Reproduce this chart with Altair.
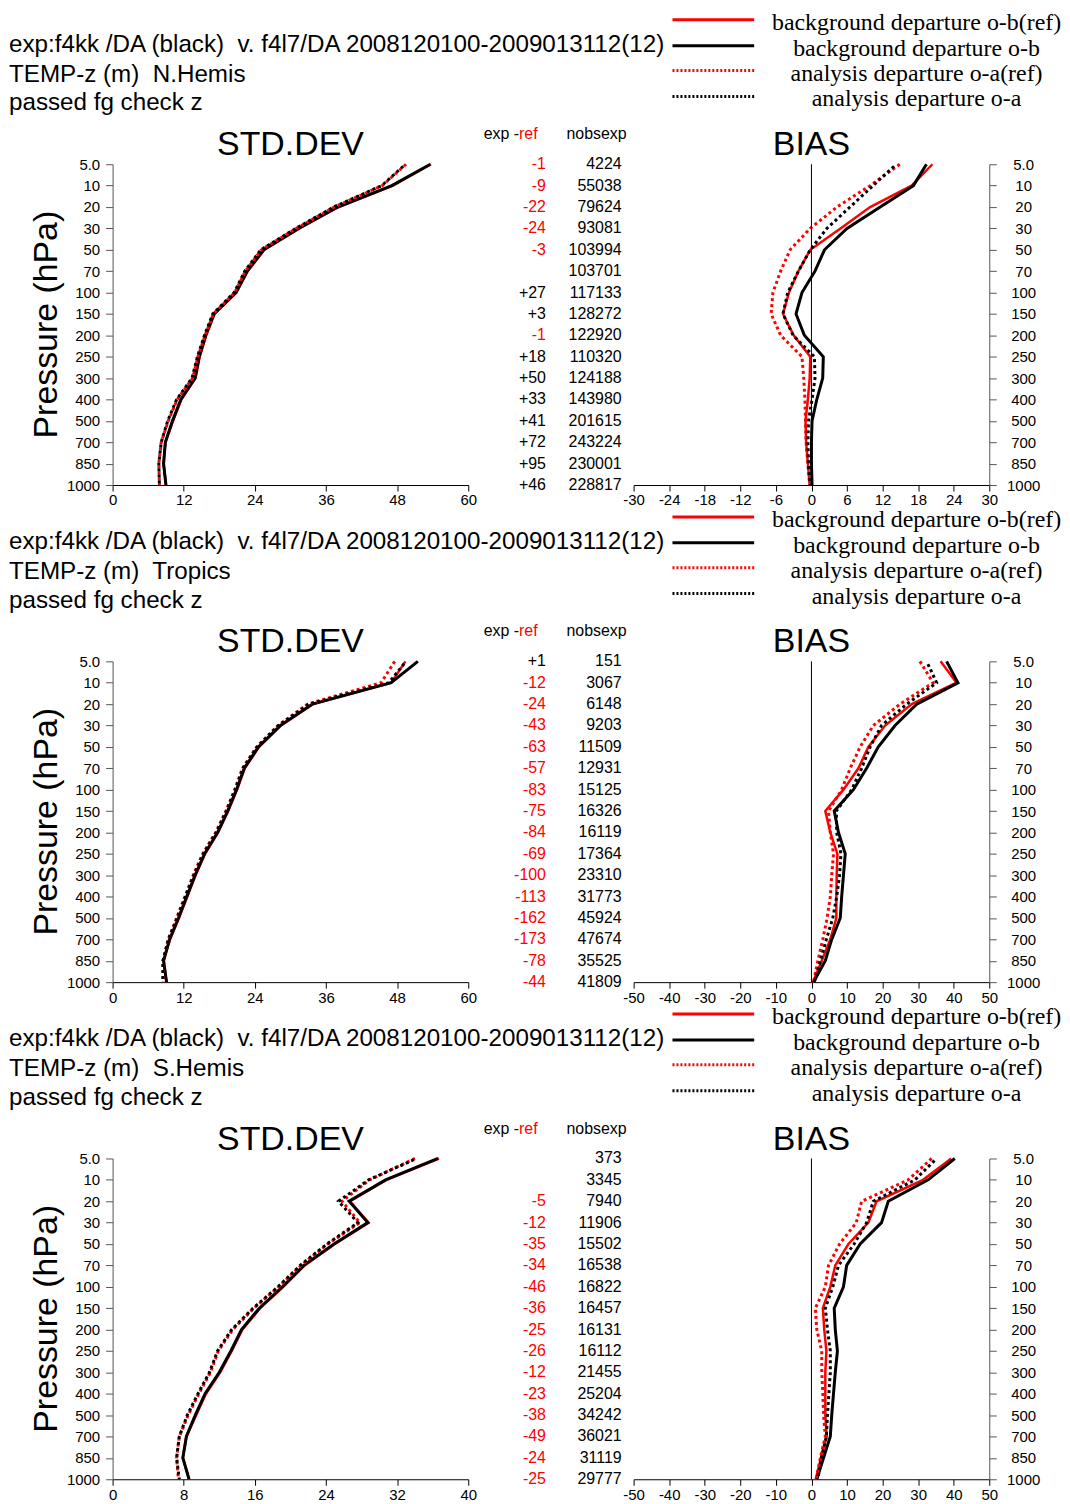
import altair as alt
import pandas as pd

LEVELS = ["5.0", "10", "20", "30", "50", "70", "100", "150", "200", "250",
          "300", "400", "500", "700", "850", "1000"]

# ---------------- N.Hemis ----------------
NH_STD_OB_REF = [53.7, 47.3, 38.1, 31.5, 25.6, 22.8, 20.9, 17.2, 15.8, 14.7, 14.0, 11.6, 10.2, 8.9, 8.6, 9.0]
NH_STD_OB_EXP = [53.6, 47.1, 38.0, 31.4, 25.5, 22.7, 20.8, 17.1, 15.7, 14.6, 13.9, 11.5, 10.1, 8.9, 8.6, 9.0]
NH_STD_OA_REF = [49.5, 45.5, 37.4, 31.0, 25.1, 22.4, 20.6, 17.0, 15.6, 14.4, 13.5, 10.9, 9.4, 8.2, 7.8, 7.9]
NH_STD_OA_EXP = [49.4, 45.4, 37.3, 30.9, 25.0, 22.3, 20.5, 16.9, 15.5, 14.3, 13.4, 10.8, 9.3, 8.2, 7.8, 7.9]
NH_BIAS_OB_REF = [20.4, 16.9, 9.9, 4.9, -0.2, -2.2, -3.8, -4.8, -3.0, -0.2, -0.3, -0.6, -1.0, -0.9, -0.6, -0.3]
NH_BIAS_OB_EXP = [19.4, 17.2, 11.6, 6.0, 2.2, 0.6, -1.6, -2.6, -1.2, 2.0, 1.9, 0.9, 0.1, 0.0, 0.0, 0.1]
NH_BIAS_OA_REF = [14.9, 9.9, 4.3, -0.2, -3.6, -5.2, -6.5, -6.8, -5.2, -1.6, -1.3, -1.1, -1.0, -0.9, -0.6, -0.3]
NH_BIAS_OA_EXP = [14.3, 10.4, 6.5, 2.6, -0.2, -2.2, -4.0, -4.8, -3.1, 0.5, 0.6, 0.1, -0.5, -0.6, -0.5, -0.2]
NH_DIFF = ["-1", "-9", "-22", "-24", "-3", "", "+27", "+3", "-1", "+18", "+50", "+33", "+41", "+72", "+95", "+46"]
NH_NOBS = ["4224", "55038", "79624", "93081", "103994", "103701", "117133", "128272", "122920",
           "110320", "124188", "143980", "201615", "243224", "230001", "228817"]

# ---------------- Tropics ----------------
TR_STD_OB_REF = [49.4, 47.0, 33.8, 28.4, 24.7, 22.3, 21.0, 19.5, 17.8, 15.6, 14.0, 12.6, 11.2, 9.7, 8.6, 9.1]
TR_STD_OB_EXP = [51.5, 47.0, 33.7, 28.3, 24.6, 22.2, 20.9, 19.4, 17.7, 15.5, 13.9, 12.5, 11.1, 9.6, 8.6, 9.1]
TR_STD_OA_REF = [47.6, 45.3, 32.9, 27.9, 24.3, 21.9, 20.6, 19.1, 17.4, 15.2, 13.6, 12.2, 10.8, 9.4, 8.5, 8.5]
TR_STD_OA_EXP = [49.5, 46.6, 33.1, 28.0, 24.4, 22.0, 20.7, 19.2, 17.5, 15.3, 13.7, 12.3, 10.9, 9.4, 8.5, 8.5]
TR_BIAS_OB_REF = [36.3, 40.8, 28.2, 20.7, 16.0, 13.2, 9.0, 3.9, 5.3, 7.3, 7.1, 7.0, 7.0, 5.3, 2.9, 0.4]
TR_BIAS_OB_EXP = [38.0, 41.2, 29.6, 23.5, 18.8, 15.5, 11.8, 6.4, 7.6, 9.5, 9.0, 8.5, 8.1, 5.7, 3.9, 0.6]
TR_BIAS_OA_REF = [30.5, 34.2, 24.9, 17.4, 13.7, 10.9, 8.5, 4.8, 5.3, 6.2, 5.7, 5.3, 4.4, 3.2, 1.8, 0.6]
TR_BIAS_OA_EXP = [32.4, 35.2, 26.8, 19.7, 16.5, 14.1, 11.3, 7.0, 7.1, 8.3, 7.9, 7.1, 6.0, 4.2, 2.5, 0.8]
TR_DIFF = ["+1", "-12", "-24", "-43", "-63", "-57", "-83", "-75", "-84", "-69", "-100", "-113",
           "-162", "-173", "-78", "-44"]
TR_NOBS = ["151", "3067", "6148", "9203", "11509", "12931", "15125", "16326", "16119", "17364",
           "23310", "31773", "45924", "47674", "35525", "41809"]

# ---------------- S.Hemis ----------------
SH_STD_OB_REF = [36.7, 30.8, 26.7, 28.8, 25.0, 21.6, 19.2, 16.6, 14.6, 13.4, 12.1, 10.5, 9.4, 8.3, 7.9, 8.6]
SH_STD_OB_EXP = [36.6, 30.7, 26.6, 28.7, 24.9, 21.5, 19.1, 16.5, 14.5, 13.3, 12.0, 10.4, 9.3, 8.3, 7.9, 8.6]
SH_STD_OA_REF = [34.0, 28.9, 25.8, 27.8, 24.2, 21.2, 18.7, 15.9, 13.5, 11.9, 11.0, 9.7, 8.5, 7.5, 7.2, 7.4]
SH_STD_OA_EXP = [34.2, 28.8, 25.4, 27.6, 24.1, 21.1, 18.6, 15.8, 13.4, 11.8, 10.9, 9.6, 8.4, 7.5, 7.2, 7.5]
SH_BIAS_OB_REF = [39.3, 31.4, 18.3, 16.0, 10.4, 6.7, 5.3, 3.2, 3.6, 4.2, 3.9, 3.9, 3.9, 4.3, 2.7, 1.2]
SH_BIAS_OB_EXP = [40.3, 32.8, 21.6, 19.7, 13.7, 9.9, 9.0, 6.4, 6.7, 7.3, 6.7, 6.2, 5.7, 5.3, 3.4, 1.5]
SH_BIAS_OA_REF = [33.8, 27.2, 14.1, 12.6, 7.9, 4.8, 3.9, 1.1, 1.5, 2.9, 2.9, 3.2, 3.4, 3.9, 2.5, 1.3]
SH_BIAS_OA_EXP = [35.2, 29.1, 17.4, 15.5, 12.0, 7.6, 6.0, 3.9, 4.5, 5.3, 5.3, 4.9, 4.5, 4.2, 2.8, 1.8]
SH_DIFF = ["", "", "-5", "-12", "-35", "-34", "-46", "-36", "-25", "-26", "-12", "-23", "-38",
           "-49", "-24", "-25"]
SH_NOBS = ["373", "3345", "7940", "11906", "15502", "16538", "16822", "16457", "16131", "16112",
           "21455", "25204", "34242", "36021", "31119", "29777"]

TITLE_LINE1 = "exp:f4kk /DA (black)\u00a0 v. f4l7/DA 2008120100-2009013112(12)"
REGIONS = ["N.Hemis", "Tropics", "S.Hemis"]
LEGEND_LABELS = ["background departure o-b(ref)", "background departure o-b",
                 "analysis departure o-a(ref)", "analysis departure o-a"]

FONT = "Liberation Sans"
SERIF = "Liberation Serif"
RED = "#ff0000"
W = 357
H = 322
W_MID = 166
PANEL_STEP = 499

# series key, colour, dash, width, dash offset
STYLES = [("ob_ref", RED, None, 2.5, 0),
          ("ob_exp", "black", None, 3, 0),
          ("oa_ref", RED, [3, 3], 3, 0),
          ("oa_exp", "black", [3, 3], 3, 3)]

YSCALE = alt.Scale(domain=LEVELS, padding=0)


def txt(s, x, y, size, font=FONT, align="left", color="black", angle=None, baseline="middle"):
    kw = dict(align=align, baseline=baseline, fontSize=size, font=font, color=color)
    if angle is not None:
        kw["angle"] = angle
    return alt.Chart(pd.DataFrame({"t": [s]})).mark_text(**kw).encode(
        text="t:N", x=alt.value(x), y=alt.value(y))


def x_axis(dom, step):
    ticks = list(range(dom[0], dom[1] + 1, step))
    return alt.Axis(values=ticks, labelFlush=False, labelOverlap=False, grid=False,
                    tickSize=6, domainColor="black", tickColor="black", labelFontSize=15,
                    labelFont=FONT, labelPadding=2, labelColor="black",
                    labelExpr="'' + datum.value")


def profile(series, dom, step, yaxis):
    df = pd.DataFrame({"lev": LEVELS, "i": list(range(len(LEVELS))), **series})
    xaxis = x_axis(dom, step)
    layers = []
    for key, col, dash, sw, off in STYLES:
        mk = dict(color=col, strokeWidth=sw)
        if dash is not None:
            mk["strokeDash"] = dash
            mk["strokeDashOffset"] = off
        layers.append(alt.Chart(df).mark_line(**mk).encode(
            x=alt.X(f"{key}:Q", scale=alt.Scale(domain=dom, nice=False, zero=False), axis=xaxis, title=None),
            y=alt.Y("lev:N", scale=YSCALE, axis=yaxis, title=None, sort=LEVELS),
            order="i:Q"))
    return layers


def panel(region, std, std_dom, std_step, bias, bias_dom, bias_step, diff, nobs):
    yaxis_left = alt.Axis(orient="left", tickSize=7, labelPadding=6, domainColor="#555555",
                          tickColor="#555555", labelFontSize=15, labelFont=FONT, grid=False,
                          labelColor="black")
    yaxis_right = alt.Axis(orient="right", tickSize=7, labelPadding=27, labelAlign="center",
                           domainColor="#555555", tickColor="#555555", labelFontSize=15,
                           labelFont=FONT, grid=False, labelColor="black")

    std_layers = profile(std, std_dom, std_step, yaxis_left)
    head = [
        txt(TITLE_LINE1, -104, -120, 24.3),
        txt("TEMP-z (m)\u00a0 " + region, -104, -90, 24.3),
        txt("passed fg check z", -104, -61, 24.3),
        txt("STD.DEV", W / 2, -19, 34, align="center"),
        txt("Pressure (hPa)", -56, H / 2, 34, align="center", angle=270, baseline="alphabetic"),
    ]
    leg_line_y = [-145, -119, -94, -68]
    leg_text_y = [-142, -116, -91, -65]
    for k, (key, col, dash, sw, off) in enumerate(STYLES):
        mk = dict(color=col, strokeWidth=3)
        if dash is not None:
            mk["strokeDash"] = [2, 2]
        head.append(alt.Chart(pd.DataFrame({"a": [0]})).mark_rule(**mk).encode(
            x=alt.value(562), x2=alt.value(644), y=alt.value(leg_line_y[k])))
        head.append(txt(LEGEND_LABELS[k], 807, leg_text_y[k], 24, font=SERIF, align="center"))
    std_chart = alt.layer(*std_layers, *head).properties(width=W, height=H)

    mdf = pd.DataFrame({"lev": LEVELS, "d": diff, "n": nobs})
    mid = alt.layer(
        alt.Chart(mdf).mark_text(align="right", baseline="middle", fontSize=16, font=FONT).encode(
            y=alt.Y("lev:N", scale=YSCALE, axis=None, sort=LEVELS),
            x=alt.value(78), text="d:N",
            color=alt.condition("indexof(datum.d, '-') === 0", alt.value(RED), alt.value("black"))),
        alt.Chart(mdf).mark_text(align="right", baseline="middle", fontSize=16, font=FONT, color="black").encode(
            y=alt.Y("lev:N", scale=YSCALE, axis=None, sort=LEVELS),
            x=alt.value(154), text="n:N"),
        txt("exp -", 51, -30, 16, align="right"),
        txt("ref", 51, -30, 16, color=RED),
        txt("nobsexp", 159, -30, 16, align="right"),
    ).properties(width=W_MID, height=H)

    bias_layers = profile(bias, bias_dom, bias_step, yaxis_right)
    zero = alt.Chart(pd.DataFrame({"z": [0]})).mark_rule(color="black", strokeWidth=1).encode(
        x=alt.X("z:Q", scale=alt.Scale(domain=bias_dom, nice=False, zero=False),
                axis=x_axis(bias_dom, bias_step), title=None),
        y=alt.value(0), y2=alt.value(H))
    bias_chart = alt.layer(*bias_layers, zero, txt("BIAS", W / 2, -19, 34, align="center")).properties(
        width=W, height=H)

    return alt.hconcat(std_chart, mid, bias_chart, spacing=0, bounds="flush")


def series(a, b, c, d):
    return {"ob_ref": a, "ob_exp": b, "oa_ref": c, "oa_exp": d}


p1 = panel("N.Hemis",
           series(NH_STD_OB_REF, NH_STD_OB_EXP, NH_STD_OA_REF, NH_STD_OA_EXP), [0, 60], 12,
           series(NH_BIAS_OB_REF, NH_BIAS_OB_EXP, NH_BIAS_OA_REF, NH_BIAS_OA_EXP), [-30, 30], 6,
           NH_DIFF, NH_NOBS)
p2 = panel("Tropics",
           series(TR_STD_OB_REF, TR_STD_OB_EXP, TR_STD_OA_REF, TR_STD_OA_EXP), [0, 60], 12,
           series(TR_BIAS_OB_REF, TR_BIAS_OB_EXP, TR_BIAS_OA_REF, TR_BIAS_OA_EXP), [-50, 50], 10,
           TR_DIFF, TR_NOBS)
p3 = panel("S.Hemis",
           series(SH_STD_OB_REF, SH_STD_OB_EXP, SH_STD_OA_REF, SH_STD_OA_EXP), [0, 40], 8,
           series(SH_BIAS_OB_REF, SH_BIAS_OB_EXP, SH_BIAS_OA_REF, SH_BIAS_OA_EXP), [-50, 50], 10,
           SH_DIFF, SH_NOBS)

chart = alt.vconcat(p1, p2, p3, spacing=PANEL_STEP, bounds="flush").properties(
    padding={"left": 1, "top": 0, "right": 0, "bottom": 0},
    background="white",
).configure_view(strokeWidth=0).resolve_scale(x="independent")

chart.save("out.html", embed_options={"renderer": "svg", "actions": False})
